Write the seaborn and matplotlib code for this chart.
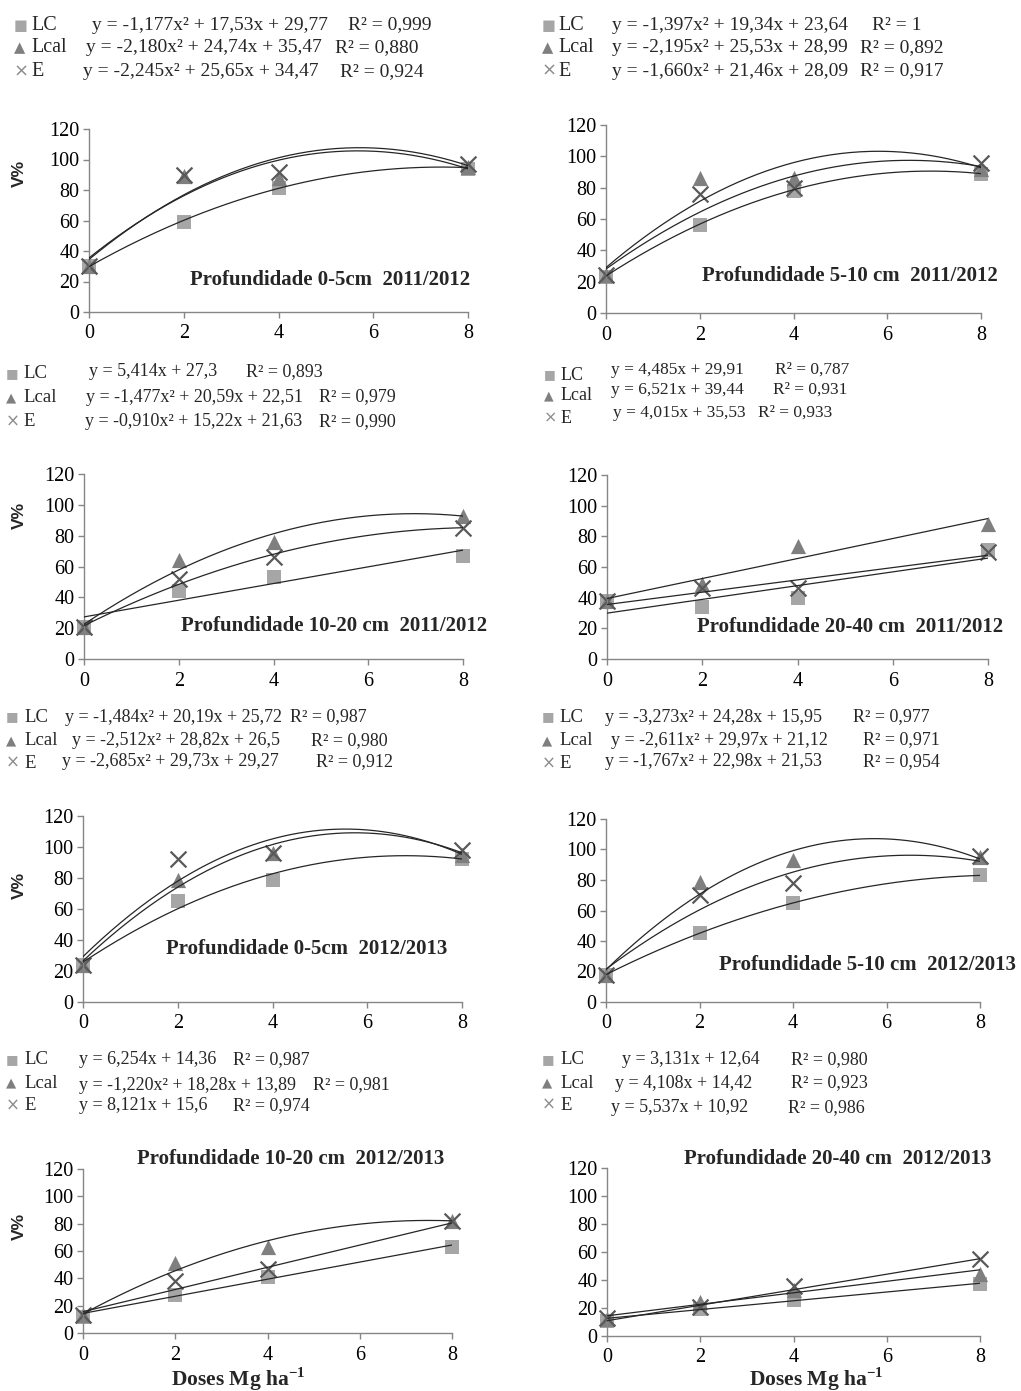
import re
import numpy as np
import pandas as pd
import matplotlib
matplotlib.use("Agg")
import matplotlib.pyplot as plt
import seaborn as sns

# ---------------------------------------------------------------- data
doses = [0, 2, 4, 8]
treatments = ["LC", "Lcal", "E"]

titles = [
    "Profundidade 0-5cm  2011/2012",
    "Profundidade 5-10 cm  2011/2012",
    "Profundidade 10-20 cm  2011/2012",
    "Profundidade 20-40 cm  2011/2012",
    "Profundidade 0-5cm  2012/2013",
    "Profundidade 5-10 cm  2012/2013",
    "Profundidade 10-20 cm  2012/2013",
    "Profundidade 20-40 cm  2012/2013",
]

# V% observed at doses 0, 2, 4 and 8 Mg/ha, one row per panel
lc_values = [
    [30, 59, 81, 94],
    [23, 56, 78, 89],
    [21, 44, 53, 67],
    [38, 34, 40, 71],
    [24, 65, 79, 92],
    [18, 45, 65, 83],
    [12, 28, 41, 63],
    [11, 19, 26, 37],
]
lcal_values = [
    [30, 89, 88, 95],
    [24, 86, 86, 92],
    [21, 64, 76, 93],
    [38, 49, 74, 88],
    [24, 79, 96, 95],
    [18, 79, 93, 95],
    [13, 51, 63, 82],
    [12, 24, 33, 44],
]
e_values = [
    [30, 90, 92, 97],
    [24, 76, 80, 96],
    [21, 52, 66, 85],
    [38, 46, 46, 70],
    [24, 92, 96, 98],
    [18, 70, 78, 96],
    [13, 38, 47, 82],
    [13, 21, 36, 55],
]

lc_eq = [
    "y = -1,177x² + 17,53x + 29,77",
    "y = -1,397x² + 19,34x + 23,64",
    "y = 5,414x + 27,3",
    "y = 4,485x + 29,91",
    "y = -1,484x² + 20,19x + 25,72",
    "y = -3,273x² + 24,28x + 15,95",
    "y = 6,254x + 14,36",
    "y = 3,131x + 12,64",
]
lcal_eq = [
    "y = -2,180x² + 24,74x + 35,47",
    "y = -2,195x² + 25,53x + 28,99",
    "y = -1,477x² + 20,59x + 22,51",
    "y = 6,521x + 39,44",
    "y = -2,512x² + 28,82x + 26,5",
    "y = -2,611x² + 29,97x + 21,12",
    "y = -1,220x² + 18,28x + 13,89",
    "y = 4,108x + 14,42",
]
e_eq = [
    "y = -2,245x² + 25,65x + 34,47",
    "y = -1,660x² + 21,46x + 28,09",
    "y = -0,910x² + 15,22x + 21,63",
    "y = 4,015x + 35,53",
    "y = -2,685x² + 29,73x + 29,27",
    "y = -1,767x² + 22,98x + 21,53",
    "y = 8,121x + 15,6",
    "y = 5,537x + 10,92",
]
lc_r2 = ["0,999", "1", "0,893", "0,787", "0,987", "0,977", "0,987", "0,980"]
lcal_r2 = ["0,880", "0,892", "0,979", "0,931", "0,980", "0,971", "0,981", "0,923"]
e_r2 = ["0,924", "0,917", "0,990", "0,933", "0,912", "0,954", "0,974", "0,986"]

# ---------------------------------------------------------------- style
W, H = 1021, 1391
sns.set_style("ticks")
plt.rcParams["font.family"] = ["Liberation Serif", "DejaVu Serif"]
plt.rcParams["mathtext.fontset"] = "custom"
plt.rcParams["mathtext.rm"] = "Liberation Serif"
plt.rcParams["mathtext.bf"] = "Liberation Serif:bold"

marker_style = {
    "LC": dict(marker="s", color="#a6a6a6", s=100, linewidth=0),
    "Lcal": dict(marker="^", color="#7f7f7f", s=120, linewidth=0),
    "E": dict(marker="x", color="#595959", s=130, linewidth=1.6),
}
legend_glyph = {"LC": ("■", "#a6a6a6"), "Lcal": ("▲", "#7f7f7f"), "E": ("×", "#8c8c8c")}
axis_grey = "#868686"

# panel geometry in pixels: left, right (x=8), top (y=120), bottom (y=0)
axes_px = [
    (89, 468, 129, 312),
    (606, 981, 125, 313),
    (84, 463, 474, 659),
    (607, 988, 475, 659),
    (83, 462, 816, 1002),
    (606, 980, 819, 1002),
    (83, 452, 1169, 1333),
    (607, 980, 1168, 1336),
]
title_px = [(330, 280), (850, 276), (334, 626), (850, 627),
            (307, 949), (867, 965), (291, 1159), (838, 1159)]

# legend blocks: glyph x, label x, label rows, equation rows, equation x, R² x, font size
legend_px = [
    dict(sx=14, lx=31, rows=[25, 48, 72], erows=[25, 48, 72], ex=[92, 86, 83], rx=[348, 335, 340], fs=14),
    dict(sx=542, lx=558, rows=[25, 48, 71], erows=[25, 48, 71], ex=[612, 612, 612], rx=[872, 860, 860], fs=14),
    dict(sx=6, lx=23, rows=[374, 398, 422], erows=[372, 397, 422], ex=[89, 86, 85], rx=[246, 319, 319], fs=13),
    dict(sx=544, lx=561, rows=[375, 396, 418], erows=[370, 390, 413], ex=[611, 611, 613], rx=[775, 773, 758], fs=12.5),
    dict(sx=6, lx=24, rows=[717, 741, 763], erows=[717, 741, 762], ex=[65, 72, 62], rx=[290, 311, 316], fs=13),
    dict(sx=542, lx=559, rows=[717, 741, 764], erows=[717, 740, 762], ex=[605, 611, 605], rx=[853, 863, 863], fs=13),
    dict(sx=6, lx=24, rows=[1060, 1083, 1106], erows=[1060, 1085, 1106], ex=[79, 79, 79], rx=[233, 313, 233], fs=13),
    dict(sx=542, lx=560, rows=[1060, 1083, 1105], erows=[1060, 1083, 1108], ex=[622, 615, 611], rx=[791, 791, 788], fs=13),
]
ylabel_px = {0: 173, 2: 515, 4: 885, 6: 1226}
xlabel_px = {6: (238, 1386), 7: (816, 1386)}


def fx(x):
    return x / W


def fy(y):
    return 1 - y / H


def coefs_from_eq(eq):
    """Polynomial coefficients (highest power first) from a printed trend equation."""
    s = eq.split("=")[1].replace(" ", "").replace(",", ".")
    a = b = c = 0.0
    for term in re.findall(r"[+-]?[\d.]+(?:x²|x)?", s):
        if term.endswith("x²"):
            a = float(term[:-2])
        elif term.endswith("x"):
            b = float(term[:-1])
        else:
            c = float(term)
    deg = 2 if "x²" in s else 1
    return deg, (np.array([a, b, c]) if deg == 2 else np.array([b, c]))


def trend_coefs(eq, values):
    deg, coefs = coefs_from_eq(eq)
    x = np.array(doses, float)
    y = np.array(values, float)
    fit = np.polyval(coefs, x)
    r2 = 1 - np.sum((y - fit) ** 2) / np.sum((y - y.mean()) ** 2)
    # a misprinted coefficient (LC, 5-10 cm 2012/2013) does not describe its
    # own points; that trend line is refitted from the observations
    if r2 < 0:
        coefs = np.polyfit(x, y, deg)
    return coefs


fig = plt.figure(figsize=(W / 100, H / 100), dpi=100)
fig.patch.set_facecolor("white")

series_values = {"LC": lc_values, "Lcal": lcal_values, "E": e_values}
series_eq = {"LC": lc_eq, "Lcal": lcal_eq, "E": e_eq}
series_r2 = {"LC": lc_r2, "Lcal": lcal_r2, "E": e_r2}

xs = np.linspace(0, 8, 200)

for i in range(8):
    l, r, t, b = axes_px[i]
    ax = fig.add_axes([fx(l), fy(b), (r - l) / W, (b - t) / H])
    ax.set_facecolor("white")

    for trat in treatments:
        df = pd.DataFrame({"dose": doses, "V": series_values[trat][i]})
        st = marker_style[trat]
        sns.scatterplot(data=df, x="dose", y="V", ax=ax, marker=st["marker"],
                        color=st["color"], s=st["s"], linewidth=st["linewidth"],
                        edgecolor=st["color"] if st["marker"] != "x" else None,
                        clip_on=False, zorder=2, legend=False)
    for trat in treatments:
        coefs = trend_coefs(series_eq[trat][i], series_values[trat][i])
        sns.lineplot(x=xs, y=np.polyval(coefs, xs), ax=ax, color="#262626",
                     linewidth=0.9, zorder=3, legend=False)

    ax.set_xlim(0, 8)
    ax.set_ylim(0, 120)
    ax.set_xticks([0, 2, 4, 6, 8])
    ax.set_yticks(range(0, 121, 20))
    ax.set_xlabel("")
    ax.set_ylabel("")
    for side in ("top", "right"):
        ax.spines[side].set_visible(False)
    for side in ("left", "bottom"):
        ax.spines[side].set_color(axis_grey)
        ax.spines[side].set_linewidth(1.0)
    ax.tick_params(axis="both", colors=axis_grey, labelcolor="black",
                   labelsize=14.5, length=4, width=1.0, direction="out")
    ax.tick_params(axis="y", pad=3)
    ax.tick_params(axis="x", pad=5)

    # panel title
    tx, ty = title_px[i]
    fig.text(fx(tx), fy(ty), titles[i], ha="center", va="center",
             fontsize=15, fontweight="bold")

    # equation block above the panel
    lay = legend_px[i]
    for k, trat in enumerate(treatments):
        glyph, gcol = legend_glyph[trat]
        gsize = lay["fs"] - (1 if trat == "E" else 3.5)
        fig.text(fx(lay["sx"]), fy(lay["rows"][k]), glyph, color=gcol,
                 ha="left", va="center", fontsize=gsize,
                 family=["DejaVu Sans", "Liberation Serif"])
        fig.text(fx(lay["lx"]), fy(lay["rows"][k]), trat, ha="left",
                 va="center", fontsize=lay["fs"] + 0.5)
        fig.text(fx(lay["ex"][k]), fy(lay["erows"][k]), series_eq[trat][i],
                 ha="left", va="center", fontsize=lay["fs"])
        fig.text(fx(lay["rx"][k]), fy(lay["erows"][k]), "R² = " + series_r2[trat][i],
                 ha="left", va="center", fontsize=lay["fs"])

    if i in ylabel_px:
        fig.text(fx(19), fy(ylabel_px[i]), "V%", rotation=90, ha="center",
                 va="center", fontsize=12.5, fontweight="bold",
                 family=["Liberation Sans", "DejaVu Sans"])
    if i in xlabel_px:
        xx, yy = xlabel_px[i]
        fig.text(fx(xx), fy(yy), r"Doses Mg ha$^{\mathbf{-1}}$", ha="center",
                 va="baseline", fontsize=15.5, fontweight="bold")

fig.savefig("out.png", dpi=100, facecolor="white")
